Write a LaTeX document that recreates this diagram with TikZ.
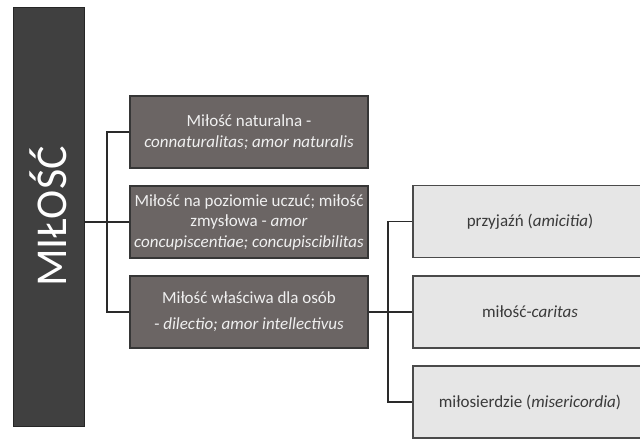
\documentclass[tikz,border=0pt]{standalone}
\usepackage{fontspec}
\setmainfont{Carlito}
\definecolor{bardark}{HTML}{404040}
\definecolor{midfill}{HTML}{6B6564}
\definecolor{midline}{HTML}{363636}
\definecolor{rfill}{HTML}{E6E6E6}
\definecolor{rline}{HTML}{4A4A4A}
\definecolor{rtext}{HTML}{3A3A3A}
\definecolor{conn}{HTML}{2A2A2A}
\begin{document}
\begin{tikzpicture}[x=1pt,y=-1pt,
  midbox/.style={draw=midline, line width=1.4pt, fill=midfill, text=white!94!black,
    minimum width=238pt, minimum height=72pt, inner sep=1pt, align=center,
    font=\fontsize{17}{20.5}\selectfont},
  rbox/.style={draw=rline, line width=1.4pt, fill=rfill, text=rtext,
    minimum width=234pt, minimum height=72pt, inner sep=2pt, align=center,
    font=\fontsize{17}{20.5}\selectfont},
  connector/.style={draw=conn, line width=1.4pt}]
\useasboundingbox (0,0) rectangle (640,439);
\clip (0,0) rectangle (640,439);
\fill[white] (0,0) rectangle (640,439);
\node[draw=black!85, line width=1pt, fill=bardark, minimum width=71pt, minimum height=419pt, inner sep=0pt] (bar) at (48.5,216.5) {};
\node[rotate=90, text=white, font=\fontsize{44}{44}\selectfont, inner sep=0pt] (title) at (bar.center) {MIŁOŚĆ};
\node[midbox] (m1) at (249,132) {Miłość naturalna -\\\textit{connaturalitas; amor naturalis}};
\node[midbox] (m2) at (249,222) {Miłość na poziomie uczuć; miłość\\zmysłowa - \textit{amor}\\\textit{concupiscentiae; concupiscibilitas}};
\node[midbox, font=\fontsize{17}{26}\selectfont] (m3) at (249,312) {Miłość właściwa dla osób\\- \textit{dilectio; amor intellectivus}};
\node[rbox] (r1) at (530,221.5) {przyjaźń (\textit{amicitia})};
\node[rbox] (r2) at (530,312) {miłość-\textit{caritas}};
\node[rbox] (r3) at (530,402) {miłosierdzie (\textit{misericordia})};
\coordinate (j1) at (107,222);
\coordinate (j2) at (388,312);
\draw[connector] (bar.east |- j1) -- (m2.west);
\draw[connector] (m1.west) -| (j1) |- (m3.west);
\draw[connector] (m3.east) -- (r2.west);
\draw[connector] (r1.west) -| (j2) |- (r3.west);
\end{tikzpicture}
\end{document}
